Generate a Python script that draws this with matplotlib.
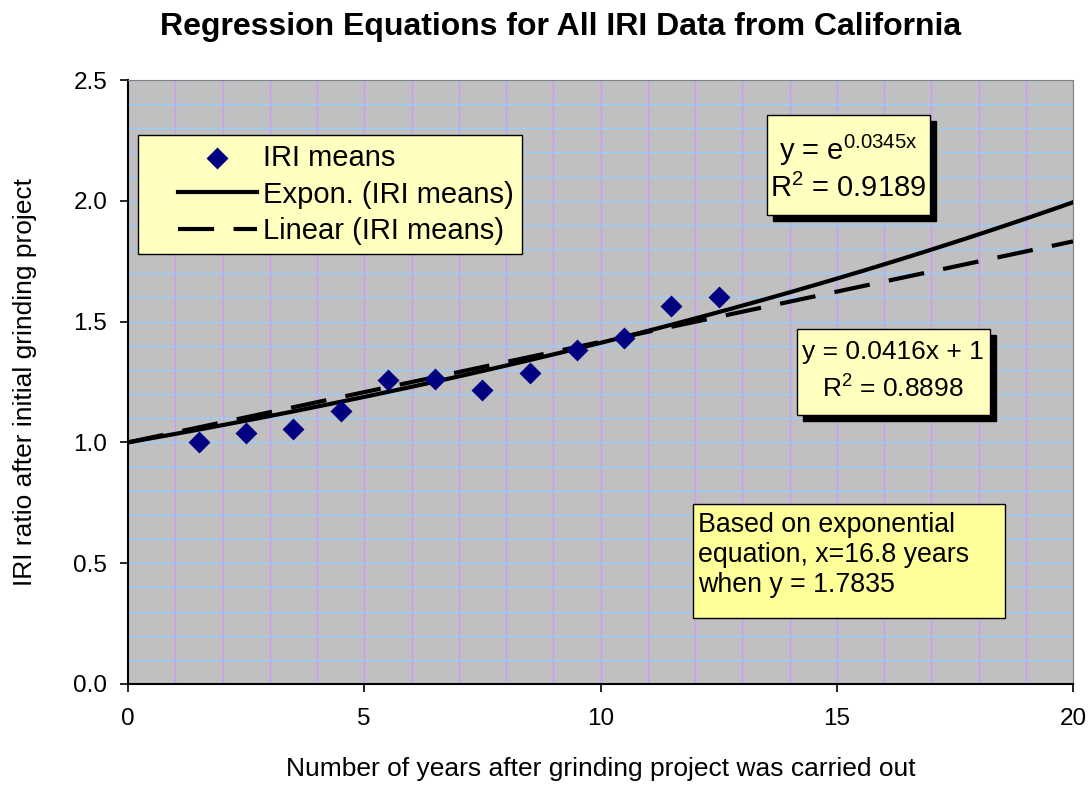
import numpy as np
import matplotlib
matplotlib.use("Agg")
import matplotlib.pyplot as plt
import matplotlib.transforms as mtransforms
from matplotlib.lines import Line2D
from matplotlib.collections import PathCollection
from matplotlib.legend_handler import HandlerLine2D, HandlerPathCollection
from matplotlib.patches import Rectangle
from matplotlib.ticker import MultipleLocator

plt.rcParams['font.family'] = ['Liberation Sans', 'DejaVu Sans']
plt.rcParams['mathtext.fontset'] = 'custom'
plt.rcParams['mathtext.rm'] = 'Liberation Sans'
plt.rcParams['mathtext.it'] = 'Liberation Sans'
plt.rcParams['lines.scale_dashes'] = False

# data
years = [1.5, 2.5, 3.5, 4.5, 5.5, 6.5, 7.5, 8.5, 9.5, 10.5, 11.5, 12.5]
iri_means = [1.00, 1.04, 1.055, 1.13, 1.26, 1.262, 1.217, 1.287, 1.382, 1.432, 1.565, 1.60]

exp_coef = 0.0345
lin_slope = 0.0416
lin_icept = 1.0

W, H = 1089, 788
L, R, T, B = 128, 1073, 80, 684


def fx(px):  # pixel -> axes fraction
    return (px - L) / (R - L)


def fy(py):
    return (B - py) / (B - T)


fig = plt.figure(figsize=(W / 100, H / 100), dpi=100)
ax = fig.add_axes([L / W, 1 - B / H, (R - L) / W, (B - T) / H])
ax.set_facecolor('#C0C0C0')

xs = np.linspace(0, 20, 200)
ax.scatter(years, iri_means, marker='D', s=125, color='#000080', zorder=4,
           label='IRI means', linewidths=0)
ax.plot(xs, np.exp(exp_coef * xs), color='black', lw=3, zorder=3,
        label='Expon. (IRI means)')
ax.plot(xs, lin_slope * xs + lin_icept, color='black', lw=3, zorder=3,
        dashes=(26, 14), label='Linear (IRI means)')

ax.set_xlim(0, 20)
ax.set_ylim(0, 2.5)
ax.xaxis.set_major_locator(MultipleLocator(5))
ax.yaxis.set_major_locator(MultipleLocator(0.5))
ax.xaxis.set_minor_locator(MultipleLocator(1))
ax.yaxis.set_minor_locator(MultipleLocator(0.1))
ax.yaxis.set_major_formatter(plt.FormatStrFormatter('%.1f'))
ax.tick_params(which='minor', length=0)
ax.tick_params(which='major', length=6, width=1.2, labelsize=17.5)
ax.tick_params(axis='x', pad=11.5)
ax.tick_params(axis='y', pad=9)
ax.grid(axis='x', which='both', color='#CC99FF', lw=1, zorder=0)
ax.grid(axis='y', which='both', color='#99CCFF', lw=1, zorder=0)
ax.set_axisbelow(True)
for s in ['top', 'right']:
    ax.spines[s].set_color('#808080')
for s in ['left', 'bottom']:
    ax.spines[s].set_linewidth(1.5)

ax.set_xlabel('Number of years after grinding project was carried out', fontsize=19)
ax.xaxis.set_label_coords(0.5, fy(757))
ax.set_ylabel('IRI ratio after initial grinding project', fontsize=19)
ax.yaxis.set_label_coords(fx(37), 0.5)
fig.text(561 / W, 1 - 35 / H, 'Regression Equations for All IRI Data from California',
         ha='center', va='baseline', fontsize=23, fontweight='bold')

leg = ax.legend(loc='upper left', bbox_to_anchor=(fx(138), fy(135)), fontsize=21,
                frameon=True, fancybox=False, facecolor='#FFFFC0', edgecolor='black',
                framealpha=1, handlelength=3.78, handletextpad=0.2, labelspacing=0.3,
                borderpad=0.3, borderaxespad=0, scatterpoints=1,
                handler_map={Line2D: HandlerLine2D(xpad=1.07),
                             PathCollection: HandlerPathCollection(xpad=1.07)})
leg.get_frame().set_linewidth(1)
leg.set_zorder(6)


def box(x0, y0, x1, y1, fc, shadow=True):
    # box given in pixel corners, drawn in axes fraction
    if shadow:
        sh = mtransforms.offset_copy(ax.transAxes, fig=fig, x=6, y=-6, units='dots')
        ax.add_patch(Rectangle((fx(x0), fy(y1)), fx(x1) - fx(x0), fy(y0) - fy(y1),
                               transform=sh, fc='black', ec='black', zorder=6))
    ax.add_patch(Rectangle((fx(x0), fy(y1)), fx(x1) - fx(x0), fy(y0) - fy(y1),
                           transform=ax.transAxes, fc=fc, ec='black', lw=1, zorder=7))


def line(x, y, txt, size, ha='center'):
    ax.text(fx(x), fy(y), txt, transform=ax.transAxes, fontsize=size, ha=ha,
            va='baseline', zorder=8)


box(767, 115, 930, 215, '#FFFFC0')
line(848, 160, 'y = e$^{\\mathrm{0.0345x}}$', 21)
line(848, 197, 'R$^{\\mathrm{2}}$ = 0.9189', 21)

box(797, 329, 990, 415, '#FFFFC0')
line(893, 359, 'y = 0.0416x + 1', 19)
line(893, 398, 'R$^{\\mathrm{2}}$ = 0.8898', 19)

box(693, 504, 1005, 618, '#FFFF99', shadow=False)
based_lines = ['Based on exponential', 'equation, x=16.8 years', 'when y = 1.7835']
for i, t in enumerate(based_lines):
    line(698, 532 + 30 * i, t, 19.3, ha='left')

fig.savefig('out.png', dpi=100)
